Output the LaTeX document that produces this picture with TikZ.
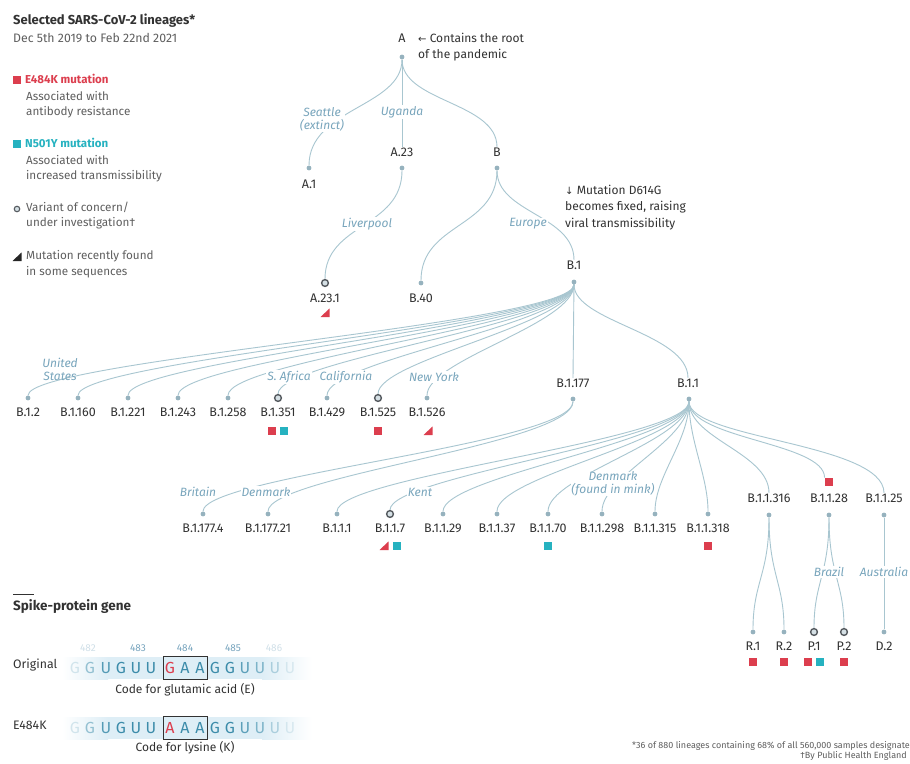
\documentclass[tikz,border=0pt]{standalone}
\usepackage{fontspec}
\setmainfont{Fira Sans}
\newfontfamily\symf{DejaVu Sans}
\pgfdeclarelayer{bg}
\pgfsetlayers{bg,main}
\definecolor{titc}{RGB}{50,50,50}
\definecolor{txtc}{RGB}{95,95,95}
\definecolor{labc}{RGB}{50,50,50}
\definecolor{redc}{RGB}{220,62,78}
\definecolor{tealc}{RGB}{38,178,192}
\definecolor{locc}{RGB}{120,165,188}
\definecolor{edgec}{RGB}{168,198,208}
\definecolor{dotc}{RGB}{150,178,190}
\definecolor{vocc}{RGB}{85,90,95}
\definecolor{bandc}{RGB}{222,238,246}
\definecolor{genec}{RGB}{60,140,170}
\definecolor{numc}{RGB}{120,165,190}
\tikzset{
  lab/.style={font=\fontsize{12.5}{14}\selectfont, text=labc, inner sep=0.5pt},
  dotn/.style={circle, fill=dotc, minimum size=4.8pt, inner sep=0pt},
  voc/.style={circle, draw=vocc, line width=1.4pt, fill=dotc!40, minimum size=6.8pt, inner sep=0pt},
  loc/.style={font=\itshape\fontsize{12}{13}\selectfont, text=locc, fill=white, inner sep=1pt, align=center},
  edge/.style={draw=edgec, line width=0.9pt},
  redsq/.style={fill=redc, minimum size=8.5pt, inner sep=0pt},
  tealsq/.style={fill=tealc, minimum size=8.5pt, inner sep=0pt},
  txt/.style={anchor=west, inner sep=0pt, text=txtc, font=\fontsize{11.7}{13}\selectfont},
  ann/.style={anchor=west, inner sep=0pt, text=labc, font=\fontsize{12}{13}\selectfont},
  gene/.style={font=\fontsize{16}{18}\selectfont, text=genec, inner sep=0pt},
  num/.style={font=\fontsize{10}{11}\selectfont, text=numc, inner sep=0pt},
}
\newcommand\tri[3]{\fill[#3] (#1-4.5,#2+4) -- (#1+4.5,#2+4) -- (#1+4.5,#2-4.5) -- cycle;}
\begin{document}
\begin{tikzpicture}[x=1pt,y=-1pt]
\useasboundingbox (0,0) rectangle (910,763);
\begin{pgfonlayer}{bg}
\fill[white] (0,0) rectangle (910,763);
\end{pgfonlayer}

% ---------- title & legend ----------
\node[anchor=west, inner sep=0pt, text=titc, font=\bfseries\fontsize{13}{15}\selectfont] (title) at (13,21) {Selected SARS-CoV-2 lineages*};
\node[txt, font=\fontsize{12.3}{14}\selectfont] (subtitle) at (13,38) {Dec 5th 2019 to Feb 22nd 2021};

\node[redsq, minimum size=8pt] (lgr) at (17,80) {};
\node[txt, text=redc, font=\bfseries\fontsize{11.5}{13}\selectfont] (lgrt) at (25,79) {E484K mutation};
\node[txt] (lgr2) at (26,96) {Associated with};
\node[txt] (lgr3) at (26,112) {antibody resistance};

\node[tealsq, minimum size=8pt] (lgt) at (17,144) {};
\node[txt, text=tealc, font=\bfseries\fontsize{11.5}{13}\selectfont] (lgtt) at (25,143) {N501Y mutation};
\node[txt] (lgt2) at (26,160) {Associated with};
\node[txt] (lgt3) at (26,176) {increased transmissibility};

\node[voc, minimum size=5.5pt, line width=1.1pt] (lgv) at (17,209) {};
\node[txt] (lgv1) at (26,207) {Variant of concern/};
\node[txt] (lgv2) at (26,223) {under investigation\textdagger};

\tri{17}{257}{black!85}
\node[txt] (lgm1) at (26,256) {Mutation recently found};
\node[txt] (lgm2) at (26,272) {in some sequences};

% ---------- tree: top ----------
\node[lab] (A) at (402,38) {A};
\node[dotn] (Ad) at (402,57) {};
\node[ann] (rootnote1) at (418,38) {{\symf\fontsize{10}{11}\selectfont ←} Contains the root};
\node[ann] (rootnote2) at (418,55) {of the pandemic};

\node[dotn] (A1d) at (309,168) {};
\node[lab] (A1) at (309,184) {A.1};
\node[lab] (A23) at (402,152) {A.23};
\node[dotn] (A23d) at (402,168) {};
\node[lab] (B) at (497,152) {B};
\node[dotn] (Bd) at (497,168) {};

\node[ann] (d614a) at (565,190) {{\symf\fontsize{10}{11}\selectfont ↓} Mutation D614G};
\node[ann] (d614b) at (565,207) {becomes fixed, raising};
\node[ann] (d614c) at (565,224) {viral transmissibility};

\node[voc] (A231d) at (325,283) {};
\node[lab] (A231) at (325,298) {A.23.1};
\tri{325}{313}{redc}
\node[dotn] (B40d) at (421,283) {};
\node[lab] (B40) at (421,298) {B.40};
\node[lab] (B1) at (574,265) {B.1};
\node[dotn] (B1d) at (574,282) {};

\begin{pgfonlayer}{bg}
\draw[edge] (Ad) .. controls +(0,50) and +(0,-60) .. (A1d);
\draw[edge] (Ad) -- (A23.north);
\draw[edge] (Ad) .. controls +(0,45) and +(0,-45) .. (B.north);
\draw[edge] (A23d) .. controls +(0,60) and +(0,-60) .. (A231d);
\draw[edge] (Bd) .. controls +(0,60) and +(0,-60) .. (B40d);
\draw[edge] (Bd) .. controls +(0,45) and +(0,-45) .. (B1.north);
\end{pgfonlayer}

% ---------- B.1 fan ----------
\foreach \n/\x/\t/\s in {b12/28/B.1.2/dotn, b1160/78/B.1.160/dotn, b1221/128/B.1.221/dotn,
  b1243/178/B.1.243/dotn, b1258/228/B.1.258/dotn, b1351/278/B.1.351/voc,
  b1429/327/B.1.429/dotn, b1525/378/B.1.525/voc, b1526/427/B.1.526/dotn}{
  \node[\s] (\n-d) at (\x,398) {};
  \node[lab] (\n) at (\x,412) {\t};
  \begin{pgfonlayer}{bg}
  \draw[edge] (B1d) .. controls +(0,42) and +(0,-38) .. (\n-d);
  \end{pgfonlayer}
}
\node[redsq] (sq1351r) at (272,431) {};
\node[tealsq] (sq1351t) at (284,431) {};
\node[redsq] (sq1525r) at (378,431) {};
\tri{428}{431}{redc}

\node[lab] (B1177) at (573,383) {B.1.177};
\node[dotn] (B1177d) at (573,399) {};
\node[lab] (B11) at (688,383) {B.1.1};
\node[dotn] (B11d) at (689,399) {};
\begin{pgfonlayer}{bg}
\draw[edge] (B1d) -- (B1177.north);
\draw[edge] (B1d) .. controls +(0,40) and +(0,-45) .. (B11.north);
\end{pgfonlayer}

% ---------- B.1.177 children ----------
\foreach \n/\x/\t in {b11774/203/B.1.177.4, b117721/268/B.1.177.21}{
  \node[dotn] (\n-d) at (\x,514) {};
  \node[lab] (\n) at (\x,528) {\t};
  \begin{pgfonlayer}{bg}
  \draw[edge] (B1177d) .. controls +(0,45) and +(0,-38) .. (\n-d);
  \end{pgfonlayer}
}

% ---------- B.1.1 fan ----------
\foreach \n/\x/\t/\s in {b111/337/B.1.1.1/dotn, b117/390/B.1.1.7/voc, b1129/443/B.1.1.29/dotn,
  b1137/497/B.1.1.37/dotn, b1170/548/B.1.1.70/dotn, b11298/602/B.1.1.298/dotn,
  b11315/655/B.1.1.315/dotn, b11318/708/B.1.1.318/dotn}{
  \node[\s] (\n-d) at (\x,514) {};
  \node[lab] (\n) at (\x,528) {\t};
  \begin{pgfonlayer}{bg}
  \draw[edge] (B11d) .. controls +(0,42) and +(0,-38) .. (\n-d);
  \end{pgfonlayer}
}
\tri{384}{546}{redc}
\node[tealsq] (sq117t) at (397,546) {};
\node[tealsq] (sq1170t) at (548,546) {};
\node[redsq] (sq11318r) at (708,546) {};

\node[lab] (B11316) at (769,498) {B.1.1.316};
\node[dotn] (B11316d) at (769,515) {};
\node[lab] (B1128) at (829,498) {B.1.1.28};
\node[dotn] (B1128d) at (829,515) {};
\node[redsq] (sq1128r) at (829,482) {};
\node[lab] (B1125) at (884,498) {B.1.1.25};
\node[dotn] (B1125d) at (884,515) {};
\begin{pgfonlayer}{bg}
\draw[edge] (B11d) .. controls +(0,40) and +(0,-40) .. (B11316.north);
\draw[edge] (B11d) .. controls +(0,40) and +(0,-35) .. (sq1128r.north west);
\draw[edge] (B11d) .. controls +(0,40) and +(0,-50) .. (B1125.north);
\end{pgfonlayer}

% ---------- bottom leaves ----------
\foreach \n/\x/\t/\s in {r1/753/R.1/dotn, r2/784/R.2/dotn, p1/814/P.1/voc, p2/844/P.2/voc, d2/884/D.2/dotn}{
  \node[\s] (\n-d) at (\x,632) {};
  \node[lab] (\n) at (\x,646) {\t};
}
\begin{pgfonlayer}{bg}
\draw[edge] (B11316d) .. controls +(0,60) and +(0,-50) .. (r1-d);
\draw[edge] (B11316d) .. controls +(0,60) and +(0,-50) .. (r2-d);
\draw[edge] (B1128d) .. controls +(0,60) and +(0,-50) .. (p1-d);
\draw[edge] (B1128d) .. controls +(0,60) and +(0,-50) .. (p2-d);
\draw[edge] (B1125d) -- (d2-d);
\end{pgfonlayer}
\node[redsq] (sqr1) at (753,662) {};
\node[redsq] (sqr2) at (784,662) {};
\node[redsq] (sqp1r) at (808,662) {};
\node[tealsq] (sqp1t) at (820,662) {};
\node[redsq] (sqp2) at (844,662) {};

% ---------- location labels ----------
\node[loc] (lseattle) at (322,119) {Seattle\\(extinct)};
\node[loc] (luganda) at (402,112) {Uganda};
\node[loc] (lliver) at (367,224) {Liverpool};
\node[loc] (leurope) at (528,224) {Europe};
\node[loc, fill=none] (lus) at (60,369) {United\\States};
\node[loc] (lsaf) at (289,377) {S. Africa};
\node[loc] (lcal) at (346,377) {California};
\node[loc] (lny) at (434,377) {New York};
\node[loc] (lbrit) at (198,492) {Britain};
\node[loc] (ldk) at (266,492) {Denmark};
\node[loc] (lkent) at (420,492) {Kent};
\node[loc, inner sep=0pt] (ldkm) at (613,484) {Denmark\\(found in mink)};
\node[loc] (lbraz) at (829,572) {Brazil};
\node[loc] (laus) at (884,572) {Australia};

% ---------- spike-protein gene ----------
\draw[titc, line width=0.8pt] (13,594) -- (34,594);
\node[anchor=west, inner sep=0pt, text=titc, font=\bfseries\fontsize{13.5}{15}\selectfont] (spike) at (13,607) {Spike-protein gene};

\foreach \x/\l/\o in {88/482/0.35, 138/483/1, 185/484/1, 233/485/1, 274/486/0.35}{
  \node[num, opacity=\o] (n\l) at (\x,648) {\l};
}
\node[anchor=west, inner sep=0pt, text=labc, font=\fontsize{12.3}{13}\selectfont] (orig) at (13,665) {Original};
\node[anchor=west, inner sep=0pt, text=labc, font=\fontsize{12.3}{13}\selectfont] (mut) at (13,725) {E484K};

\foreach \yy in {668,728}{
  \shade[left color=white, right color=bandc] (62,\yy-11) rectangle (108,\yy+11);
  \fill[bandc] (108,\yy-11) rectangle (262,\yy+11);
  \shade[left color=bandc, right color=white] (262,\yy-11) rectangle (312,\yy+11);
}
\foreach \yy/\r in {668/a, 728/b}{
  \foreach \x/\l/\o in {75/G/0.2, 90/G/0.5, 106/U/0.85, 121/G/1, 136/U/1, 151/U/1,
     215/G/1, 230/G/1, 245/U/0.8, 260/U/0.6, 275/U/0.35, 290/U/0.15}{
    \node[gene, opacity=\o] (g\r\x) at (\x,\yy) {\l};
  }
  \node[gene] (g\r185) at (185,\yy) {A};
  \node[gene] (g\r200) at (200,\yy) {A};
  \draw[labc, line width=1pt] (163,\yy-11.5) rectangle (207.5,\yy+11.5);
}
\node[gene, text=redc] (ga170) at (170,668) {G};
\node[gene, text=redc] (gb170) at (170,728) {A};
\node[inner sep=0pt, text=labc, font=\fontsize{12}{13}\selectfont] (codeE) at (185,690) {Code for glutamic acid (E)};
\node[inner sep=0pt, text=labc, font=\fontsize{12}{13}\selectfont] (codeK) at (185,748) {Code for lysine (K)};

% ---------- footnotes ----------
\node[anchor=east, inner sep=0pt, text=txtc, font=\fontsize{9}{10}\selectfont] (fn1) at (910,746) {*36 of 880 lineages containing 68\% of all 560,000 samples designate};
\node[anchor=east, inner sep=0pt, text=txtc, font=\fontsize{9}{10}\selectfont] (fn2) at (907,756) {\textdagger By Public Health England};
\end{tikzpicture}
\end{document}
